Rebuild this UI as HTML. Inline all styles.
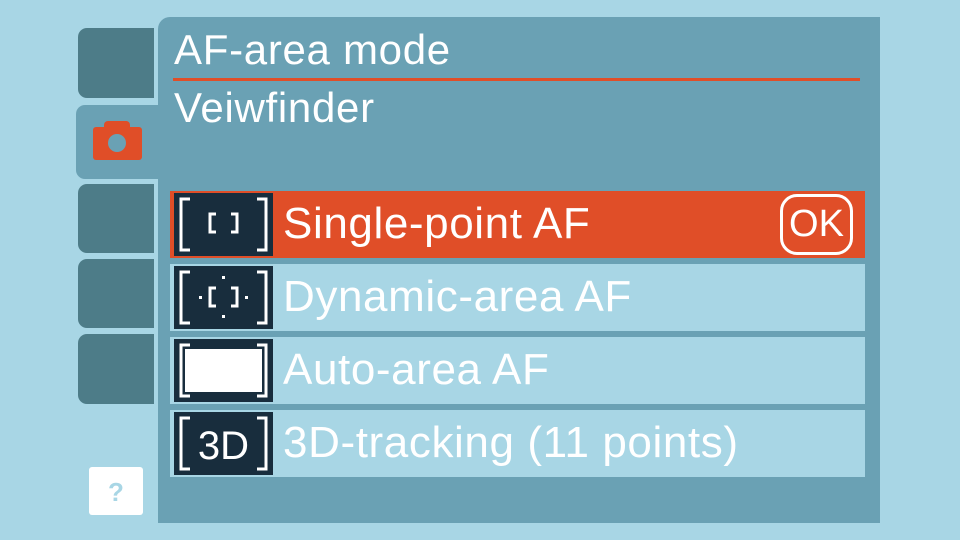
<!DOCTYPE html>
<html><head><style>
body{margin:0;width:960px;height:540px;background:#a8d6e5;position:relative;overflow:hidden;font-family:"Liberation Sans",sans-serif}
div{position:absolute;box-sizing:border-box}
.tab{left:78px;width:76px;background:#4d7c88;border-radius:9px 0 0 9px}
.row{left:170px;width:695px;height:67px;background:#a8d6e5}
.ic{left:4px;top:2px;width:99px;height:63px;background:#182d3d}
.t{left:113px;top:0px;font-size:44px;letter-spacing:0.6px;color:#fff;white-space:nowrap;line-height:66px}
.h{left:174px;font-size:42px;letter-spacing:0.7px;color:#fff;line-height:50px;white-space:nowrap}
</style></head><body>
<div style="left:158px;top:17px;width:722px;height:506px;background:#6aa1b4;border-radius:12px 0 0 0"></div>
<div class="tab" style="top:28px;height:70px"></div>
<div class="tab" style="left:76px;top:105px;height:74px;width:84px;background:#6aa1b4"></div>
<div class="tab" style="top:184px;height:69px"></div>
<div class="tab" style="top:259px;height:69px"></div>
<div class="tab" style="top:334px;height:70px"></div>
<svg style="position:absolute;left:0;top:0" width="960" height="540">
<rect x="93" y="127" width="49" height="33" rx="3" fill="#e04e28"/>
<rect x="104" y="121" width="26" height="10" rx="4" fill="#e04e28"/>
<circle cx="117" cy="143" r="9" fill="#6aa1b4"/>
</svg>
<div style="left:89px;top:467px;width:54px;height:48px;background:#fff;border-radius:3px;color:#a8d6e5;font-weight:bold;font-size:26px;text-align:center;line-height:50px">?</div>
<div class="h" style="top:25px">AF-area mode</div>
<div style="left:173px;top:78px;width:687px;height:3px;background:#e04e28"></div>
<div class="h" style="top:83px">Veiwfinder</div>

<div class="row" style="top:191px;background:#e04e28"><div class="ic"><svg width="99" height="63" fill="none" stroke="#fff" stroke-width="3"><path d="M16 6H7V57H16M83 6H92V57H83"/><path d="M42 21H36V39H42M57 21H63V39H57" stroke-width="3"/></svg></div><div class="t">Single-point AF</div>
<div style="left:610px;top:3px;width:73px;height:61px;border:3px solid #fff;border-radius:17px;color:#fff;font-size:38px;text-align:center;line-height:55px">OK</div></div>
<div class="row" style="top:264px"><div class="ic"><svg width="99" height="63" fill="none" stroke="#fff" stroke-width="3"><path d="M16 6H7V57H16M83 6H92V57H83"/><path d="M42 22H36V40H42M57 22H63V40H57" stroke-width="3"/><g fill="#fff" stroke="none"><rect x="48" y="10" width="3" height="3"/><rect x="48" y="49" width="3" height="3"/><rect x="25" y="30" width="3" height="3"/><rect x="71" y="30" width="3" height="3"/></g></svg></div><div class="t">Dynamic-area AF</div></div>
<div class="row" style="top:337px"><div class="ic"><svg width="99" height="63" fill="none" stroke="#fff" stroke-width="3"><path d="M16 6H7V57H16M83 6H92V57H83"/><rect x="11" y="10" width="77" height="43" fill="#fff" stroke="none"/></svg></div><div class="t">Auto-area AF</div></div>
<div class="row" style="top:410px"><div class="ic"><svg width="99" height="63" fill="none" stroke="#fff" stroke-width="3"><path d="M16 6H7V57H16M83 6H92V57H83"/><text x="49.5" y="47" fill="#fff" stroke="none" font-size="40" text-anchor="middle" font-family="Liberation Sans">3D</text></svg></div><div class="t">3D-tracking (11 points)</div></div>
</body></html>
